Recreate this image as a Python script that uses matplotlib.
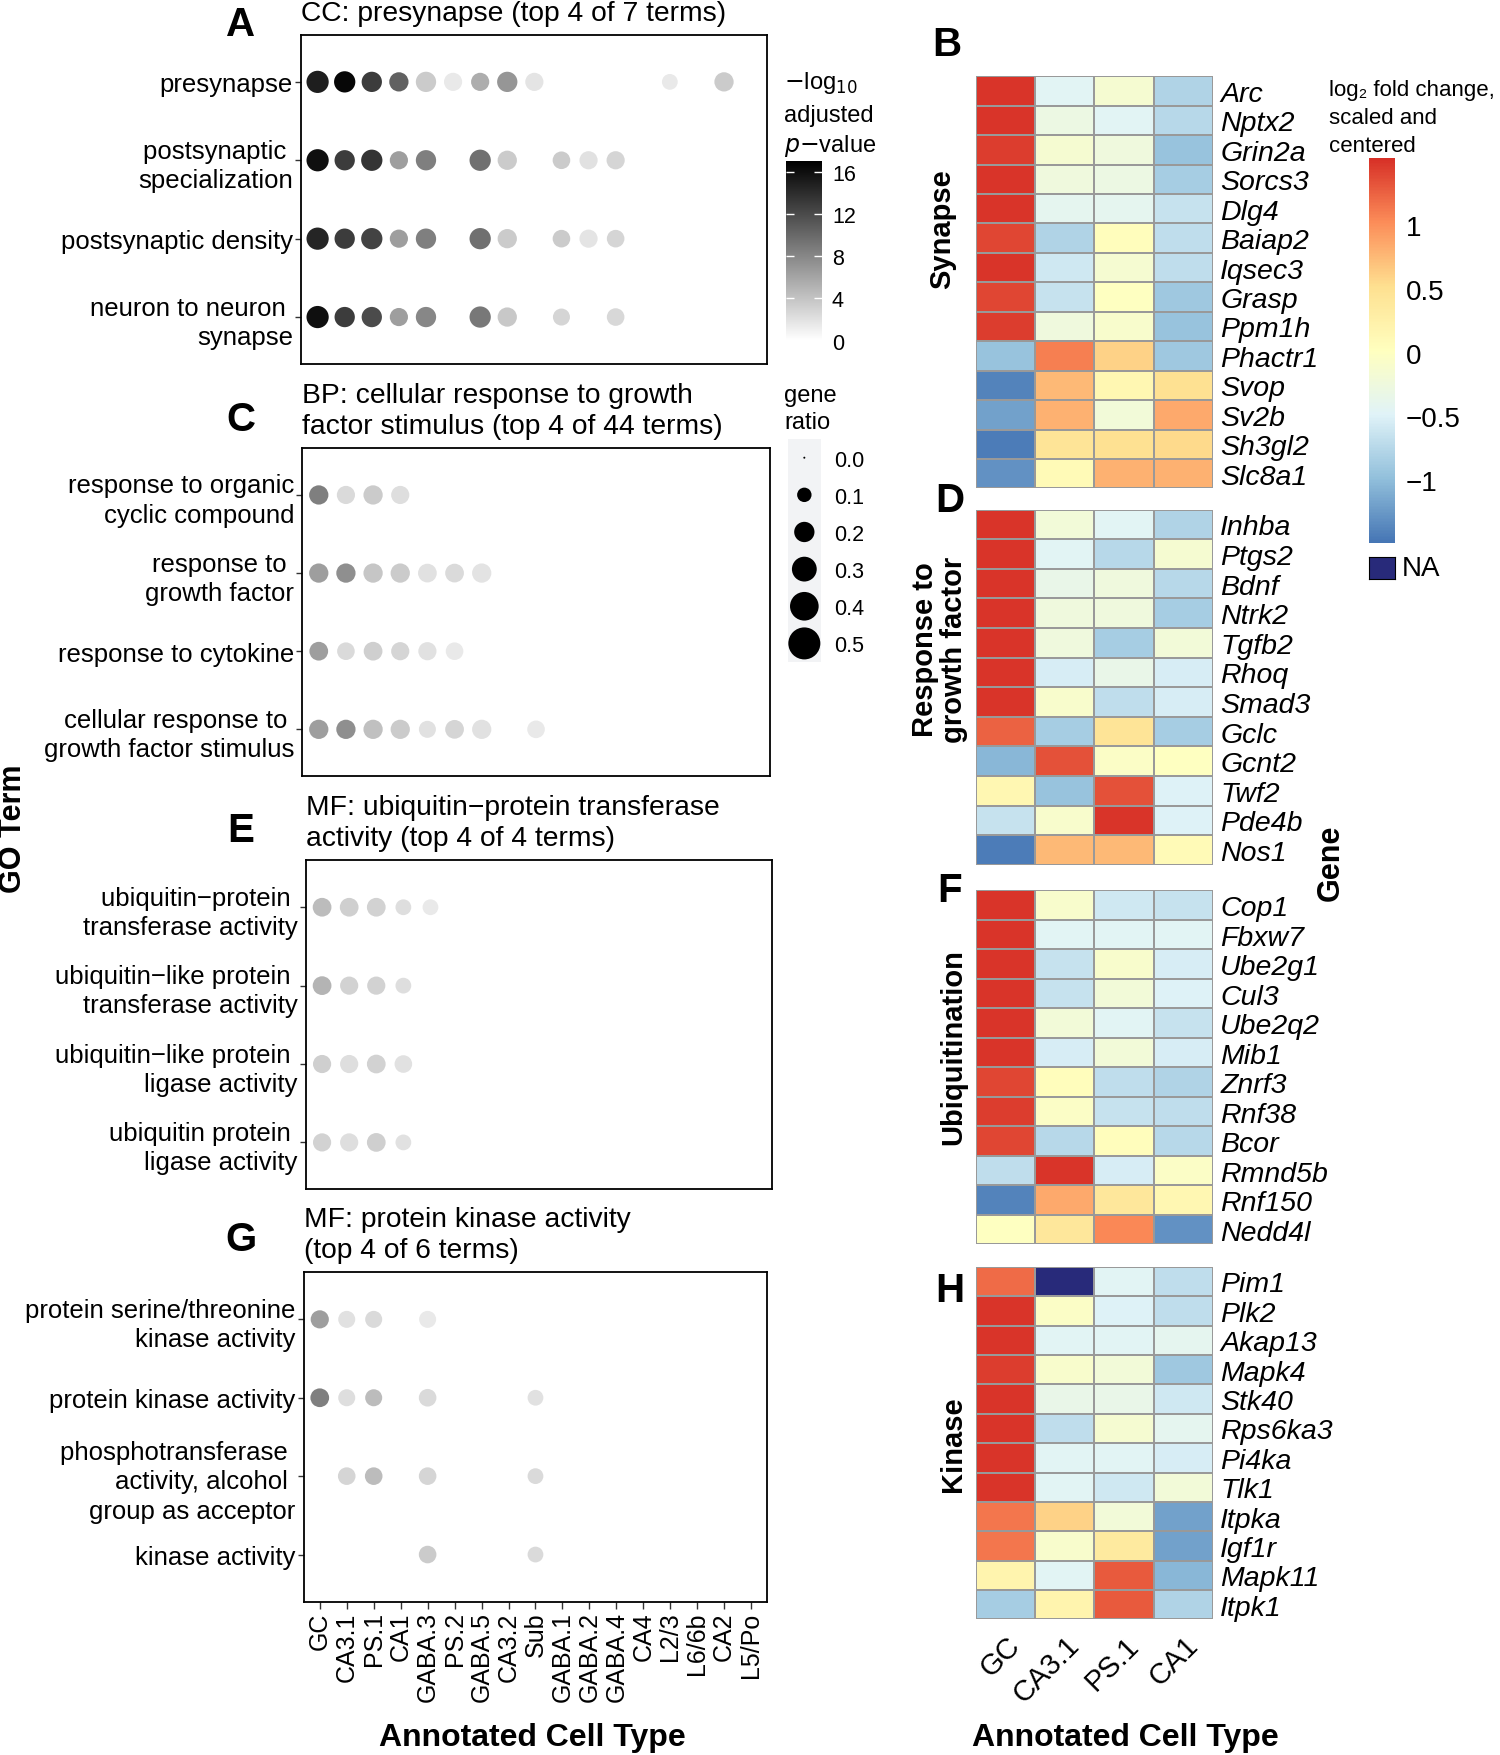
import numpy as np
import matplotlib
matplotlib.use("Agg")
import matplotlib.pyplot as plt
from matplotlib.colors import LinearSegmentedColormap, Normalize
from matplotlib.cm import ScalarMappable

plt.rcParams['font.family'] = ['Liberation Sans', 'DejaVu Sans']
nan = np.nan

# ---------------- data ----------------
cell_types = ["GC", "CA3.1", "PS.1", "CA1", "GABA.3", "PS.2", "GABA.5", "CA3.2", "Sub",
              "GABA.1", "GABA.2", "GABA.4", "CA4", "L2/3", "L6/6b", "CA2", "L5/Po"]

# panel A
terms_a = ["presynapse", "postsynaptic \nspecialization", "postsynaptic density",
           "neuron to neuron \nsynapse"]
p_a = [
    [15, 16.5, 13, 10.5, 3.5, 1.5, 5.5, 7, 1.8, nan, nan, nan, nan, 1.5, nan, 3.5, nan],
    [16, 13, 13.5, 6.5, 8.5, nan, 9.5, 3.5, nan, 3.5, 2, 2.8, nan, nan, nan, nan, nan],
    [14.5, 13, 12.5, 6.5, 8.5, nan, 9.5, 3.5, nan, 3.5, 1.8, 2.8, nan, nan, nan, nan, nan],
    [16, 13, 12, 6.5, 8, nan, 9, 3.7, nan, 2.8, nan, 2.6, nan, nan, nan, nan, nan],
]
r_a = [
    [0.24, 0.22, 0.2, 0.18, 0.2, 0.16, 0.16, 0.2, 0.16, nan, nan, nan, nan, 0.12, nan, 0.18, nan],
    [0.24, 0.2, 0.22, 0.16, 0.2, nan, 0.22, 0.18, nan, 0.15, 0.16, 0.16, nan, nan, nan, nan, nan],
    [0.24, 0.2, 0.22, 0.16, 0.2, nan, 0.22, 0.18, nan, 0.15, 0.16, 0.15, nan, nan, nan, nan, nan],
    [0.24, 0.2, 0.2, 0.16, 0.2, nan, 0.22, 0.18, nan, 0.14, nan, 0.15, nan, nan, nan, nan, nan],
]

# panel C
terms_c = ["response to organic\ncyclic compound", "response to \ngrowth factor",
           "response to cytokine", "cellular response to \ngrowth factor stimulus"]
p_c = [
    [8.5, 2.5, 3.5, 2.2, nan, nan, nan, nan, nan, nan, nan, nan, nan, nan, nan, nan, nan],
    [6.5, 7.5, 3.8, 3.5, 2, 2.5, 1.9, nan, nan, nan, nan, nan, nan, nan, nan, nan, nan],
    [6.5, 2.5, 3.2, 2.8, 2, 1.5, nan, nan, nan, nan, nan, nan, nan, nan, nan, nan, nan],
    [6.5, 7.5, 4.2, 3.5, 2, 2.8, 2, nan, 1.5, nan, nan, nan, nan, nan, nan, nan, nan],
]
r_c = [
    [0.18, 0.16, 0.18, 0.16, nan, nan, nan, nan, nan, nan, nan, nan, nan, nan, nan, nan, nan],
    [0.18, 0.18, 0.18, 0.18, 0.17, 0.17, 0.18, nan, nan, nan, nan, nan, nan, nan, nan, nan, nan],
    [0.17, 0.15, 0.17, 0.16, 0.16, 0.15, nan, nan, nan, nan, nan, nan, nan, nan, nan, nan, nan],
    [0.18, 0.18, 0.18, 0.18, 0.14, 0.17, 0.18, nan, 0.15, nan, nan, nan, nan, nan, nan, nan, nan],
]

# panel E
terms_e = ["ubiquitin\u2212protein \ntransferase activity", "ubiquitin\u2212like protein \ntransferase activity",
           "ubiquitin\u2212like protein \nligase activity", "ubiquitin protein \nligase activity"]
p_e = [
    [4.5, 3.2, 3, 2.2, 1.5, nan, nan, nan, nan, nan, nan, nan, nan, nan, nan, nan, nan],
    [5, 3, 3, 2.2, nan, nan, nan, nan, nan, nan, nan, nan, nan, nan, nan, nan, nan],
    [3.2, 2.2, 3, 2, nan, nan, nan, nan, nan, nan, nan, nan, nan, nan, nan, nan, nan],
    [3, 2.2, 3.2, 2, nan, nan, nan, nan, nan, nan, nan, nan, nan, nan, nan, nan, nan],
]
r_e = [
    [0.17, 0.17, 0.17, 0.12, 0.12, nan, nan, nan, nan, nan, nan, nan, nan, nan, nan, nan, nan],
    [0.17, 0.16, 0.16, 0.12, nan, nan, nan, nan, nan, nan, nan, nan, nan, nan, nan, nan, nan],
    [0.16, 0.16, 0.17, 0.15, nan, nan, nan, nan, nan, nan, nan, nan, nan, nan, nan, nan, nan],
    [0.16, 0.16, 0.17, 0.12, nan, nan, nan, nan, nan, nan, nan, nan, nan, nan, nan, nan, nan],
]

# panel G
terms_g = ["protein serine/threonine\nkinase activity", "protein kinase activity",
           "phosphotransferase \nactivity, alcohol \ngroup as acceptor", "kinase activity"]
p_g = [
    [6.5, 2, 2.5, nan, 1.5, nan, nan, nan, nan, nan, nan, nan, nan, nan, nan, nan, nan],
    [8.5, 2.2, 4.5, nan, 2.5, nan, nan, nan, 2, nan, nan, nan, nan, nan, nan, nan, nan],
    [nan, 2.8, 4.5, nan, 2.8, nan, nan, nan, 2.5, nan, nan, nan, nan, nan, nan, nan, nan],
    [nan, nan, nan, nan, 3.5, nan, nan, nan, 2.5, nan, nan, nan, nan, nan, nan, nan, nan],
]
r_g = [
    [0.16, 0.14, 0.14, nan, 0.14, nan, nan, nan, nan, nan, nan, nan, nan, nan, nan, nan, nan],
    [0.17, 0.14, 0.14, nan, 0.15, nan, nan, nan, 0.12, nan, nan, nan, nan, nan, nan, nan, nan],
    [nan, 0.15, 0.15, nan, 0.15, nan, nan, nan, 0.12, nan, nan, nan, nan, nan, nan, nan, nan],
    [nan, nan, nan, nan, 0.15, nan, nan, nan, 0.12, nan, nan, nan, nan, nan, nan, nan, nan],
]

ratio_keys = [0.0, 0.1, 0.2, 0.3, 0.4, 0.5]
p_ticks = [0, 4, 8, 12, 16]

# heatmaps
hm_cols = ["GC", "CA3.1", "PS.1", "CA1"]
genes_b = ["Arc", "Nptx2", "Grin2a", "Sorcs3", "Dlg4", "Baiap2", "Iqsec3", "Grasp", "Ppm1h",
           "Phactr1", "Svop", "Sv2b", "Sh3gl2", "Slc8a1"]
vals_b = [[1.5, -0.45, -0.15, -0.8], [1.5, -0.3, -0.45, -0.75], [1.45, -0.15, -0.25, -0.95],
          [1.5, -0.25, -0.3, -0.85], [1.5, -0.4, -0.4, -0.65], [1.4, -0.8, 0.05, -0.7],
          [1.5, -0.6, -0.15, -0.7], [1.4, -0.65, 0.0, -0.9], [1.45, -0.25, -0.1, -0.95],
          [-0.95, 1.1, 0.6, -0.9], [-1.4, 0.75, 0.15, 0.5], [-1.2, 0.8, -0.2, 0.85],
          [-1.45, 0.45, 0.5, 0.55], [-1.3, 0.1, 0.8, 0.8]]
genes_d = ["Inhba", "Ptgs2", "Bdnf", "Ntrk2", "Tgfb2", "Rhoq", "Smad3", "Gclc", "Gcnt2",
           "Twf2", "Pde4b", "Nos1"]
vals_d = [[1.5, -0.2, -0.45, -0.8], [1.5, -0.45, -0.75, -0.15], [1.5, -0.35, -0.25, -0.75],
          [1.5, -0.25, -0.25, -0.85], [1.5, -0.25, -0.85, -0.2], [1.5, -0.55, -0.35, -0.55],
          [1.5, -0.1, -0.7, -0.55], [1.25, -0.85, 0.45, -0.85], [-1.05, 1.35, -0.05, 0.0],
          [0.15, -0.95, 1.35, -0.5], [-0.65, -0.1, 1.5, -0.5], [-1.45, 0.75, 0.75, 0.1]]
genes_f = ["Cop1", "Fbxw7", "Ube2g1", "Cul3", "Ube2q2", "Mib1", "Znrf3", "Rnf38", "Bcor",
           "Rmnd5b", "Rnf150", "Nedd4l"]
vals_f = [[1.5, -0.1, -0.6, -0.65], [1.5, -0.45, -0.45, -0.45], [1.5, -0.65, -0.1, -0.55],
          [1.5, -0.65, -0.2, -0.5], [1.5, -0.2, -0.45, -0.65], [1.5, -0.55, -0.2, -0.55],
          [1.4, 0.05, -0.7, -0.8], [1.45, -0.05, -0.65, -0.7], [1.4, -0.75, 0.05, -0.75],
          [-0.7, 1.5, -0.55, -0.05], [-1.4, 0.85, 0.4, 0.15], [0.0, 0.4, 1.05, -1.3]]
genes_h = ["Pim1", "Plk2", "Akap13", "Mapk4", "Stk40", "Rps6ka3", "Pi4ka", "Tlk1", "Itpka",
           "Igf1r", "Mapk11", "Itpk1"]
vals_h = [[1.2, nan, -0.45, -0.7], [1.5, -0.05, -0.5, -0.7], [1.5, -0.45, -0.45, -0.4],
          [1.45, -0.1, -0.2, -0.9], [1.5, -0.35, -0.35, -0.6], [1.5, -0.7, -0.15, -0.4],
          [1.5, -0.45, -0.45, -0.55], [1.5, -0.45, -0.6, -0.2], [1.15, 0.6, -0.2, -1.2],
          [1.15, -0.1, 0.35, -1.2], [0.2, -0.45, 1.3, -1.05], [-0.85, 0.2, 1.3, -0.8]]
fc_ticks = [-1, -0.5, 0, 0.5, 1]

# ---------------- styles ----------------
W, H = 1339, 1568   # layout measured on the reduced reference


def box(x0, y0, x1, y1):
    return [x0 / W, 1 - y1 / H, (x1 - x0) / W, (y1 - y0) / H]


def fx(x):
    return x / W


def fy(y):
    return 1 - y / H


grey = LinearSegmentedColormap.from_list("wb", ["white", "black"])
pnorm = Normalize(0, 17)
hm_cmap = LinearSegmentedColormap.from_list(
    "rdylbu", ["#4575b4", "#91bfdb", "#e0f3f8", "#ffffbf", "#fee090", "#fc8d59", "#d73027"])
hm_cmap.set_bad("#282a7a")
hm_norm = Normalize(-1.5, 1.53)


def size_pts(r):
    return 0.5184 * (4 + 2040 * np.asarray(r))


fig = plt.figure(figsize=(15, 17.56), dpi=100)


def dotplot(rect, title, terms, pvals, ratios, show_x):
    ax = fig.add_axes(rect)
    n = len(cell_types)
    for i in range(len(terms)):
        p = np.array(pvals[i], float)
        r = np.array(ratios[i], float)
        ok = ~np.isnan(p)
        ax.scatter(np.arange(n)[ok], np.full(ok.sum(), i), s=size_pts(r[ok]), c=p[ok],
                   cmap=grey, norm=pnorm, linewidths=0, zorder=3)
    ax.set_xlim(-0.6, n - 0.4)
    ax.set_ylim(len(terms) - 0.4, -0.6)
    ax.set_yticks(range(len(terms)))
    ax.set_yticklabels(terms, fontsize=18.5, linespacing=1.28)
    ax.tick_params(axis="y", length=4, width=1, color="#333333", pad=2)
    ax.set_xticks(range(n))
    if show_x:
        ax.set_xticklabels(cell_types, rotation=90, fontsize=18)
        ax.tick_params(axis="x", length=5, width=1, color="#333333", pad=2)
    else:
        ax.tick_params(axis="x", length=0, labelbottom=False)
    for s in ax.spines.values():
        s.set_linewidth(1.3)
    ax.set_title(title, loc="left", fontsize=20.3, pad=11, linespacing=1.26)
    return ax


dotplot(box(269, 32, 685, 326), "CC: presynapse (top 4 of 7 terms)", terms_a, p_a, r_a, False)
dotplot(box(270, 401, 687, 694), "BP: cellular response to growth\nfactor stimulus (top 4 of 44 terms)",
        terms_c, p_c, r_c, False)
dotplot(box(273, 769, 689, 1063), "MF: ubiquitin\u2212protein transferase\nactivity (top 4 of 4 terms)",
        terms_e, p_e, r_e, False)
dotplot(box(271, 1137, 685, 1431), "MF: protein kinase activity\n(top 4 of 6 terms)",
        terms_g, p_g, r_g, True)

# -log10 p legend
cax = fig.add_axes(box(702, 145, 734, 305))
cb = fig.colorbar(ScalarMappable(norm=pnorm, cmap=grey), cax=cax, ticks=p_ticks)
cb.outline.set_visible(False)
cax.tick_params(direction="in", color="white", length=6, width=1, left=True, right=True,
                labelsize=15.5, pad=7)
fig.text(fx(700), fy(74), r"$-$log$_{10}$", fontsize=17, va="center")
fig.text(fx(700), fy(104), "adjusted", fontsize=17, va="center")
fig.text(fx(700), fy(130), r"$p$$-$value", fontsize=17, va="center")

# gene ratio legend
lax = fig.add_axes(box(703, 393, 733, 592))
lax.set_facecolor("#f2f3f5")
lax.scatter(np.zeros(len(ratio_keys)), ratio_keys, s=size_pts(ratio_keys), c="black",
            linewidths=0)
lax.set_xlim(-1, 1)
lax.set_ylim(0.55, -0.05)
lax.set_yticks(ratio_keys)
lax.set_yticklabels([f"{v:.1f}" for v in ratio_keys], fontsize=15.5)
lax.yaxis.tick_right()
lax.tick_params(axis="y", length=0, pad=9)
lax.set_xticks([])
for s in lax.spines.values():
    s.set_visible(False)
fig.text(fx(700), fy(354), "gene", fontsize=17, va="center")
fig.text(fx(700), fy(378), "ratio", fontsize=17, va="center")


# heatmaps
def heatmap(y0, y1, genes, vals, show_x):
    ax = fig.add_axes(box(871, y0, 1083, y1))
    data = np.ma.masked_invalid(np.array(vals, float))
    ax.pcolormesh(data, cmap=hm_cmap, norm=hm_norm, edgecolors="#999999", linewidth=1.3)
    ax.set_xlim(0, len(hm_cols))
    ax.set_ylim(len(genes), 0)
    ax.set_yticks(np.arange(len(genes)) + 0.5)
    ax.set_yticklabels(genes, fontsize=20.5, style="italic")
    ax.yaxis.tick_right()
    ax.tick_params(axis="y", length=0, pad=5)
    ax.set_xticks(np.arange(len(hm_cols)) + 0.5)
    if show_x:
        ax.set_xticklabels(hm_cols, rotation=45, ha="right", rotation_mode="anchor", fontsize=21)
        ax.tick_params(axis="x", length=0, pad=8)
    else:
        ax.tick_params(axis="x", length=0, labelbottom=False)
    for s in ax.spines.values():
        s.set_visible(False)
    return ax


heatmap(69, 437, genes_b, vals_b, False)
heatmap(456, 773, genes_d, vals_d, False)
heatmap(796, 1112, genes_f, vals_f, False)
heatmap(1132, 1447, genes_h, vals_h, True)

hcax = fig.add_axes(box(1222, 142, 1245, 486))
hcb = fig.colorbar(ScalarMappable(norm=hm_norm, cmap=hm_cmap), cax=hcax, ticks=fc_ticks)
hcb.outline.set_visible(False)
hcb.set_ticklabels(["\u22121", "\u22120.5", "0", "0.5", "1"])
hcax.tick_params(length=0, labelsize=20, pad=8)
nax = fig.add_axes(box(1222, 498, 1245, 518))
nax.set_facecolor("#282a7a")
nax.set_xticks([])
nax.set_yticks([])
fig.text(fx(1251), fy(508), "NA", fontsize=20, va="center")
fig.text(fx(1186), fy(81), "log\u2082 fold change,", fontsize=16, va="center")
fig.text(fx(1186), fy(106), "scaled and", fontsize=16, va="center")
fig.text(fx(1186), fy(131), "centered", fontsize=16, va="center")

# block labels
fig.text(fx(841), fy(205), "Synapse", rotation=90, fontsize=21, weight="bold", ha="center", va="center")
fig.text(fx(839), fy(580), "Response to\ngrowth factor", rotation=90, fontsize=21, weight="bold",
         ha="center", va="center", linespacing=1.05)
fig.text(fx(851), fy(935), "Ubiquitination", rotation=90, fontsize=21, weight="bold", ha="center", va="center")
fig.text(fx(851), fy(1290), "Kinase", rotation=90, fontsize=21, weight="bold", ha="center", va="center")

# axis titles
fig.text(fx(12), fy(740), "GO Term", rotation=90, fontsize=22, weight="bold", ha="center", va="center")
fig.text(fx(1188), fy(770), "Gene", rotation=90, fontsize=22, weight="bold", ha="center", va="center")
fig.text(fx(475), fy(1552), "Annotated Cell Type", fontsize=23, weight="bold", ha="center", va="center")
fig.text(fx(1005), fy(1552), "Annotated Cell Type", fontsize=23, weight="bold", ha="center", va="center")

# panel letters
for lab, x, y in [("A", 215, 22), ("C", 215, 375), ("E", 215, 742), ("G", 215, 1107),
                  ("B", 845, 40), ("D", 848, 447), ("F", 848, 796), ("H", 848, 1153)]:
    fig.text(fx(x), fy(y), lab, fontsize=29, weight="bold", ha="center", va="center")

fig.savefig("out.png", dpi=100)
